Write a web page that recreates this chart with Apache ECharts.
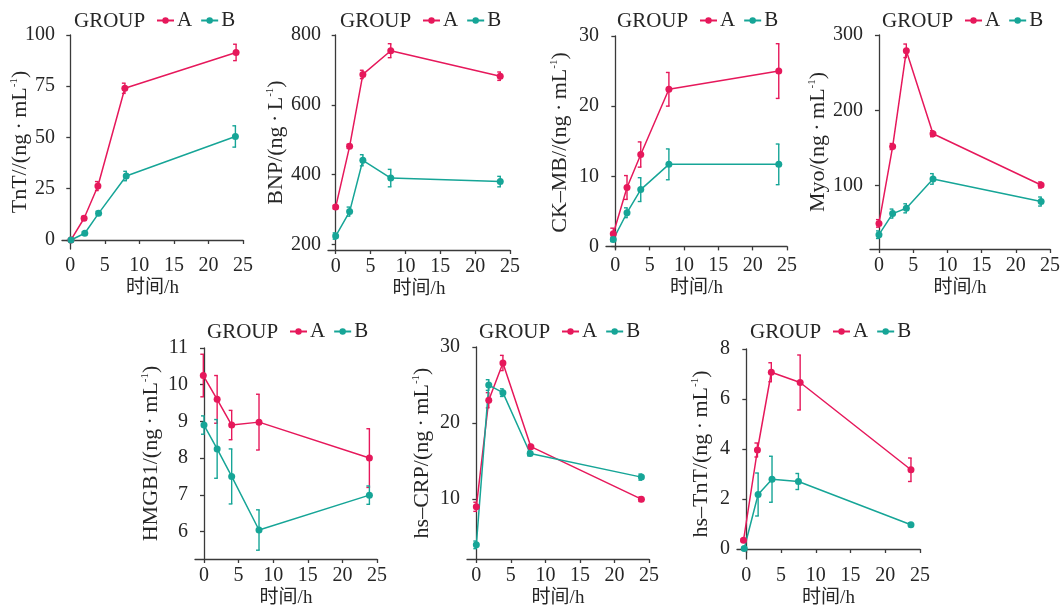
<!DOCTYPE html>
<html>
<head>
<meta charset="utf-8">
<script src="https://cdn.jsdelivr.net/npm/echarts@6/dist/echarts.min.js"></script>
<style>html,body{margin:0;padding:0;background:#fff}#c{width:1063px;height:609px}</style>
</head>
<body>
<div id="c"></div>
<script>
// ---------- data ----------
const xTicks = [0, 5, 10, 15, 20, 25];

// Panel 1: TnT
const tntXA = [0.1, 2.0, 4.0, 7.9, 24.0];
const tntA = [0, 10.6, 26.3, 74, 91.5];
const tntAErr = [0.4, 0.9, 2.2, 2.5, 4];
const tntXB = [0.1, 2.1, 4.1, 8.1, 23.9];
const tntB = [0, 3.3, 13, 31.2, 50.5];
const tntBErr = [0.3, 0.7, 1, 2.3, 5.2];
const tntYTicks = [0, 25, 50, 75, 100];

// Panel 2: BNP
const bnpXA = [0, 2, 3.9, 7.9, 23.6];
const bnpA = [307, 481, 687, 755, 682];
const bnpAErr = [5, 6, 12, 20, 12];
const bnpXB = [0, 2, 3.9, 7.9, 23.6];
const bnpB = [224, 294, 441, 390, 380];
const bnpBErr = [9, 13, 16, 25, 15];
const bnpYTicks = [200, 400, 600, 800];

// Panel 3: CK-MB
const ckXA = [-0.3, 1.7, 3.7, 7.8, 23.8];
const ckA = [1.8, 8.4, 13.1, 22.4, 25.0];
const ckAErr = [0.8, 1.7, 1.8, 2.4, 3.9];
const ckXB = [-0.3, 1.7, 3.7, 7.8, 23.8];
const ckB = [1.0, 4.8, 8.1, 11.7, 11.7];
const ckBErr = [0.3, 0.7, 1.7, 2.2, 2.9];
const ckYTicks = [0, 10, 20, 30];

// Panel 4: Myo
const myoXA = [0, 2, 4, 7.9, 23.7];
const myoA = [50, 152, 279, 169, 101];
const myoAErr = [5, 4, 9, 4, 4];
const myoXB = [0, 2, 4, 7.9, 23.7];
const myoB = [35, 63, 70, 109, 79];
const myoBErr = [5, 6, 6, 7, 6];
const myoYTicks = [100, 200, 300];

// Panel 5: HMGB1
const hmXA = [-0.1, 1.9, 4.0, 7.95, 23.9];
const hmA = [10.25, 9.6, 8.9, 8.98, 8.0];
const hmAErr = [0.58, 0.65, 0.4, 0.76, 0.8];
const hmXB = [0, 1.9, 4.0, 7.95, 23.9];
const hmB = [8.9, 8.25, 7.5, 6.04, 6.99];
const hmBErr = [0.25, 0.8, 0.75, 0.55, 0.25];
const hmYTicks = [6, 7, 8, 9, 10, 11];

// Panel 6: hs-CRP
const crpXA = [0, 1.8, 3.85, 7.9, 23.9];
const crpA = [9.0, 23.0, 27.9, 16.9, 10.0];
const crpAErr = [0.6, 1, 1, 0.3, 0.3];
const crpXB = [0, 1.8, 3.85, 7.8, 23.9];
const crpB = [4.0, 25.0, 24.0, 16.0, 12.9];
const crpBErr = [0.5, 0.7, 0.5, 0.3, 0.4];
const crpYTicks = [10, 20, 30];

// Panel 7: hs-TnT
const htXA = [-0.4, 1.6, 3.6, 7.75, 23.7];
const htA = [0.35, 3.96, 7.07, 6.66, 3.17];
const htAErr = [0.05, 0.28, 0.38, 1.1, 0.47];
const htXB = [-0.3, 1.7, 3.7, 7.5, 23.7];
const htB = [0.02, 2.18, 2.79, 2.7, 0.97];
const htBErr = [0.05, 0.86, 0.92, 0.32, 0.07];
const htYTicks = [0, 2, 4, 6, 8];

const DOT = '\u2009·\u2009';
const panelNames = ['TnT//(ng' + DOT + 'mL', 'BNP/(ng' + DOT + 'L', 'CK–MB//(ng' + DOT + 'mL', 'Myo/(ng' + DOT + 'mL',
                    'HMGB1/(ng' + DOT + 'mL', 'hs–CRP/(ng' + DOT + 'mL', 'hs–TnT/(ng' + DOT + 'mL'];
const xTitle = '时间/h';
const groupTitle = 'GROUP';
const groupNames = ['A', 'B'];

// ---------- layout / style ----------
const COL_A = '#E6185B';
const COL_B = '#16A597';
const FONT = '"Liberation Serif","Noto Sans CJK SC",serif';
const TXT = '#262626';
const AX = '#3a3a3a';

const panels = [
  {xa: tntXA, a: tntA, ae: tntAErr, xb: tntXB, b: tntB, be: tntBErr, yt: tntYTicks,
   grid: {left: 62, top: 35, width: 181, height: 214}, xmin: -1.2, ymin: -4.4, ymax: 100, gap: 30, leg: 74, legTop: 10},
  {xa: bnpXA, a: bnpA, ae: bnpAErr, xb: bnpXB, b: bnpB, be: bnpBErr, yt: bnpYTicks,
   grid: {left: 328, top: 35, width: 182, height: 215}, xmin: -1.1, ymin: 184, ymax: 800, gap: 40, leg: 340, legTop: 10},
  {xa: ckXA, a: ckA, ae: ckAErr, xb: ckXB, b: ckB, be: ckBErr, yt: ckYTicks,
   grid: {left: 606, top: 36, width: 181, height: 213}, xmin: -1.36, ymin: -0.37, ymax: 30, gap: 34, leg: 617, legTop: 10},
  {xa: myoXA, a: myoA, ae: myoAErr, xb: myoXB, b: myoB, be: myoBErr, yt: myoYTicks,
   grid: {left: 870, top: 35, width: 181, height: 214}, xmin: -1.31, ymin: 16, ymax: 300, gap: 40, leg: 882, legTop: 10},
  {xa: hmXA, a: hmA, ae: hmAErr, xb: hmXB, b: hmB, be: hmBErr, yt: hmYTicks,
   grid: {left: 195, top: 348, width: 182, height: 211}, xmin: -1.3, ymin: 5.25, ymax: 11, gap: 32, leg: 207, legTop: 321},
  {xa: crpXA, a: crpA, ae: crpAErr, xb: crpXB, b: crpB, be: crpBErr, yt: crpYTicks,
   grid: {left: 467, top: 347, width: 182, height: 212}, xmin: -1.35, ymin: 2.14, ymax: 30, gap: 33, leg: 479, legTop: 321},
  {xa: htXA, a: htA, ae: htAErr, xb: htXB, b: htB, be: htBErr, yt: htYTicks,
   grid: {left: 737, top: 349, width: 183, height: 210}, xmin: -1.34, ymin: -0.4, ymax: 8, gap: 24, leg: 750, legTop: 321}
];

function errRender(color) {
  return function (params, api) {
    const x = api.value(0), lo = api.value(1), hi = api.value(2);
    const pt = api.coord([x, hi]);
    const pb = api.coord([x, lo]);
    const cw = 3;
    const st = {stroke: color, lineWidth: 1.4};
    return {type: 'group', children: [
      {type: 'line', shape: {x1: pt[0], y1: pt[1], x2: pb[0], y2: pb[1]}, style: st},
      {type: 'line', shape: {x1: pt[0] - cw, y1: pt[1], x2: pt[0] + 0.7, y2: pt[1]}, style: st},
      {type: 'line', shape: {x1: pb[0] - cw, y1: pb[1], x2: pb[0] + 0.7, y2: pb[1]}, style: st}
    ]};
  };
}

const option = {
  animation: false,
  backgroundColor: '#fff',
  title: [], legend: [], grid: [], xAxis: [], yAxis: [], series: []
};

panels.forEach((p, i) => {
  option.grid.push(Object.assign({containLabel: false}, p.grid));
  option.title.push({
    text: groupTitle, left: p.leg, top: p.legTop, padding: 0,
    textStyle: {fontFamily: FONT, fontSize: 21, fontWeight: 'normal', color: TXT, lineHeight: 22}
  });
  option.legend.push({
    data: groupNames, left: p.leg + 82, top: p.legTop, padding: 0,
    itemWidth: 17, itemHeight: 8, itemGap: 8,
    textStyle: {fontFamily: FONT, fontSize: 21, color: TXT, padding: [0, 0, 0, -2]},
    selectedMode: false
  });
  option.xAxis.push({
    type: 'value', gridIndex: i, min: p.xmin, max: 25,
    name: xTitle, nameLocation: 'middle', nameGap: 30, nameMoveOverlap: false,
    nameTextStyle: {fontFamily: FONT, fontSize: 19, color: TXT},
    axisLine: {show: true, lineStyle: {color: AX, width: 1.3}},
    axisTick: {show: true, length: 4, lineStyle: {color: AX, width: 1.3}, customValues: xTicks},
    axisLabel: {fontFamily: FONT, fontSize: 20, color: TXT, margin: 7, customValues: xTicks},
    splitLine: {show: false}
  });
  option.yAxis.push({
    type: 'value', gridIndex: i, min: p.ymin, max: p.ymax,
    name: '{a|' + panelNames[i] + '}{s|-1}{a|)}', nameLocation: 'middle', nameGap: p.gap, nameRotate: 90,
    nameMoveOverlap: false,
    nameTextStyle: {
      rich: {
        a: {fontFamily: FONT, fontSize: 22, color: TXT, lineHeight: 23},
        s: {fontFamily: FONT, fontSize: 11, color: TXT, lineHeight: 23, verticalAlign: 'top'}
      }
    },
    axisLine: {show: true, lineStyle: {color: AX, width: 1.3}},
    axisTick: {show: true, length: 4, lineStyle: {color: AX, width: 1.3}, customValues: p.yt},
    axisLabel: {fontFamily: FONT, fontSize: 20, color: TXT, margin: 7, customValues: p.yt},
    splitLine: {show: false}
  });
  const mk = (xs, ys) => xs.map((x, k) => [x, ys[k]]);
  const mkErr = (xs, ys, es) => xs.map((x, k) => [x, ys[k] - es[k], ys[k] + es[k]]);
  option.series.push(
    {type: 'custom', name: 'errA' + i, xAxisIndex: i, yAxisIndex: i, renderItem: errRender(COL_A),
     encode: {x: 0, y: [1, 2]}, data: mkErr(p.xa, p.a, p.ae), z: 2, silent: true},
    {type: 'custom', name: 'errB' + i, xAxisIndex: i, yAxisIndex: i, renderItem: errRender(COL_B),
     encode: {x: 0, y: [1, 2]}, data: mkErr(p.xb, p.b, p.be), z: 2, silent: true},
    {type: 'line', name: 'A', xAxisIndex: i, yAxisIndex: i, data: mk(p.xa, p.a),
     symbol: 'circle', symbolSize: 7, itemStyle: {color: COL_A}, lineStyle: {color: COL_A, width: 1.5}, z: 3},
    {type: 'line', name: 'B', xAxisIndex: i, yAxisIndex: i, data: mk(p.xb, p.b),
     symbol: 'circle', symbolSize: 7, itemStyle: {color: COL_B}, lineStyle: {color: COL_B, width: 1.5}, z: 3}
  );
});

const chart = echarts.init(document.getElementById('c'), null, {renderer: 'canvas'});
chart.setOption(option);
</script>
</body>
</html>
